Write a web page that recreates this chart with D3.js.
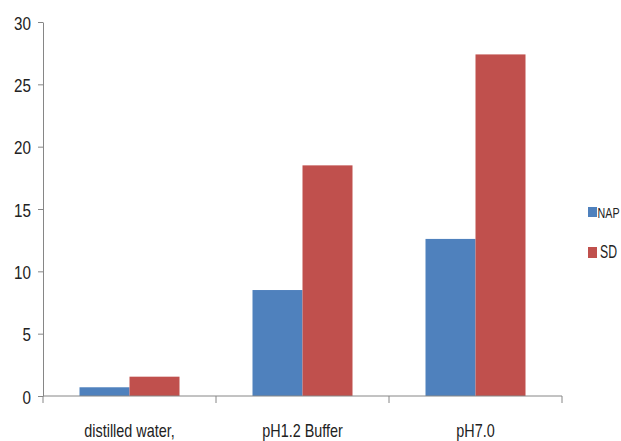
<!DOCTYPE html>
<html>
<head>
<meta charset="utf-8">
<script src="https://cdn.jsdelivr.net/npm/d3@7"></script>
<style>
  html, body { margin: 0; padding: 0; background: #fff; }
  svg { display: block; }
  text { font-family: "Liberation Sans", Arial, sans-serif; fill: #222; }
</style>
</head>
<body>
<svg id="chart" width="621" height="441"></svg>
<script>
// Dissolution media and the two formulations compared
const categories = ["distilled water,", "pH1.2 Buffer", "pH7.0"];
const seriesNames = ["NAP", "SD"];
const napValues = [0.7, 8.5, 12.6];
const sdValues = [1.55, 18.5, 27.4];
const yTicks = [0, 5, 10, 15, 20, 25, 30];
const seriesColors = ["#4F81BD", "#C0504D"];

const values = [napValues, sdValues];
const rows = categories.map((c, i) => ({
  category: c,
  bars: seriesNames.map((s, j) => ({ series: s, value: values[j][i] }))
}));

const svg = d3.select("#chart");
const plot = { left: 43, right: 562, top: 22, bottom: 396 };
const narrow = 0.8; // horizontal squeeze for a condensed look

// Draws a horizontally condensed label anchored at (x, y)
function label(parent, x, y, txt, size, anchor, squeeze = narrow) {
  const g = parent.append("g").attr("transform", `translate(${x},${y}) scale(${squeeze},1)`);
  g.append("text")
    .attr("text-anchor", anchor)
    .attr("font-size", size)
    .text(txt);
  return g;
}

const x0 = d3.scaleBand().domain(categories).range([plot.left, plot.right]).padding(0);
const x1 = d3.scaleBand().domain(seriesNames).range([0, x0.bandwidth()]).paddingInner(0).paddingOuter(0.73);
const y = d3.scaleLinear().domain([0, 30]).range([plot.bottom, plot.top]);
const color = d3.scaleOrdinal().domain(seriesNames).range(seriesColors);

// Bars
const groups = svg.append("g").selectAll("g")
  .data(rows).join("g")
  .attr("transform", d => `translate(${x0(d.category)},0)`);

groups.selectAll("rect")
  .data(d => d.bars).join("rect")
  .attr("x", d => x1(d.series))
  .attr("width", x1.bandwidth())
  .attr("y", d => y(d.value))
  .attr("height", d => y(0) - y(d.value))
  .attr("fill", d => color(d.series));

// Y axis
const yAxis = svg.append("g")
  .attr("transform", `translate(${plot.left},0)`)
  .call(d3.axisLeft(y).tickValues(yTicks).tickSize(5).tickSizeOuter(0));
yAxis.select(".domain").attr("stroke", "#868686");
yAxis.selectAll(".tick line").attr("stroke", "#868686");
yAxis.selectAll(".tick text").remove();
yAxis.selectAll(".tick").each(function(d) {
  label(d3.select(this), -12, 7, d, 19, "end");
});

// X axis with boundary ticks between categories
const xAxis = svg.append("g")
  .attr("transform", `translate(0,${plot.bottom})`);
xAxis.append("line")
  .attr("x1", plot.left).attr("x2", plot.right)
  .attr("stroke", "#868686");
const boundaries = d3.range(categories.length + 1).map(i => plot.left + i * x0.step());
xAxis.selectAll("line.tick").data(boundaries).join("line")
  .attr("class", "tick")
  .attr("x1", d => d).attr("x2", d => d)
  .attr("y1", 0).attr("y2", 7)
  .attr("stroke", "#868686");
categories.forEach(c => label(xAxis, x0(c) + x0.bandwidth() / 2, 41, c, 18, "middle"));

// Legend
const legend = svg.append("g").attr("transform", "translate(588,207)");
const items = legend.selectAll("g").data(seriesNames).join("g")
  .attr("transform", (d, i) => `translate(0,${i * 40})`);
items.append("rect")
  .attr("width", 9).attr("height", (d, i) => i === 0 ? 10 : 11)
  .attr("fill", d => color(d));
items.each(function(d, i) {
  if (i === 0) label(d3.select(this), 9.5, 10.5, d, 14.5, "start", 0.74);
  else label(d3.select(this), 12, 11, d, 18, "start", 0.68);
});
</script>
</body>
</html>
